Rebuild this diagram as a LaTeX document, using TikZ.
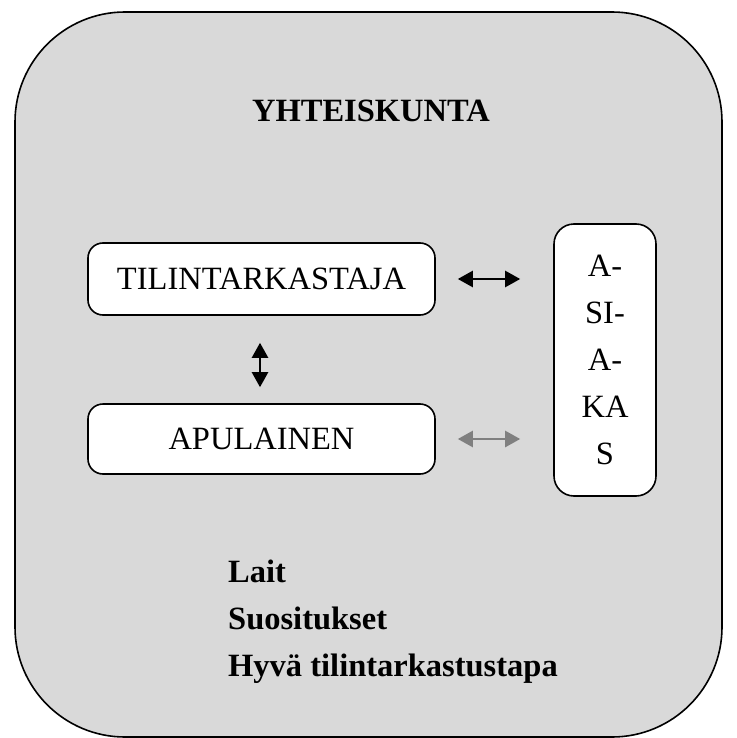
\documentclass[tikz,border=0pt]{standalone}
\usepackage{fontspec}
\setmainfont{Liberation Serif}
\usetikzlibrary{arrows.meta}

\definecolor{bggray}{HTML}{D9D9D9}
\definecolor{arrgray}{HTML}{808080}

\tikzset{
	roundbox/.style={draw, fill=white, line width=1.6pt, rounded corners=15pt, inner sep=0pt},
	boxtext/.style={font=\fontsize{32.5}{47}\selectfont},
	listtext/.style={font=\fontsize{32.5}{38}\selectfont\bfseries, anchor=base west, inner sep=0pt},
	link/.style={line width=2.4pt, {Triangle[length=15pt,width=16pt]}-{Triangle[length=15pt,width=16pt]}}
}

\begin{document}
\begin{tikzpicture}[x=1pt, y=-1pt]
	\useasboundingbox (0,0) rectangle (736,738);
	
	% Society background
	\draw[fill=bggray, line width=1.6pt, rounded corners=110pt] (15,12) rectangle (722,737);
	\node[boxtext, font=\fontsize{32.5}{38}\selectfont\bfseries] (yht) at (371,111) {YHTEISKUNTA};
	
	% Boxes
	\node[roundbox, boxtext, minimum width=347pt, minimum height=72pt] (tili) at (261.5,279) {TILINTARKASTAJA};
	\node[roundbox, boxtext, minimum width=347pt, minimum height=70pt] (apu) at (261.5,439) {APULAINEN};
	\node[roundbox, boxtext, align=center, rounded corners=20pt, minimum width=102pt, minimum height=272pt] (asiakas) at (605,360) {A-\\SI-\\A-\\KA\\S};
	
	% Arrows
	\draw[link, shorten <=22pt, shorten >=33pt] (tili.east) -- (tili.east -| asiakas.west);
	\draw[link, arrgray, shorten <=22pt, shorten >=33pt] (apu.east) -- (apu.east -| asiakas.west);
	\draw[link, shorten <=27pt, shorten >=16pt] ([xshift=-1.5pt]tili.south) -- ([xshift=-1.5pt]apu.north);
	
	% Rules
	\node[listtext] (lait) at (228,582) {Lait};
	\node[listtext] (suos) at (228,629) {Suositukset};
	\node[listtext] (hyva) at (228,676) {Hyvä tilintarkastustapa};
\end{tikzpicture}
\end{document}
